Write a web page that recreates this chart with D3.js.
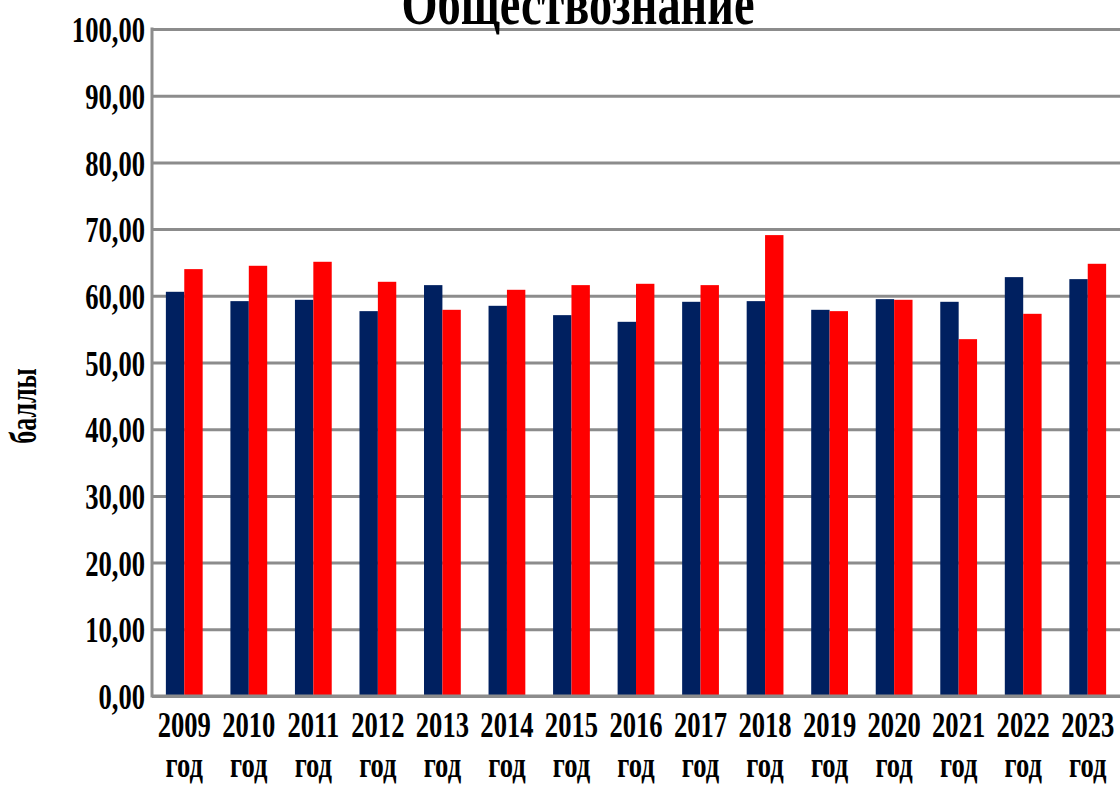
<!DOCTYPE html>
<html>
<head>
<meta charset="utf-8">
<script src="https://cdn.jsdelivr.net/npm/d3@7"></script>
<style>
  body { margin: 0; background: #fff; }
  text { font-family: "Liberation Serif", "Times New Roman", serif; font-weight: bold; fill: #000; }
</style>
</head>
<body>
<div id="chart"></div>
<script>
const years = ["2009", "2010", "2011", "2012", "2013", "2014", "2015", "2016",
    "2017", "2018", "2019", "2020", "2021", "2022", "2023"];
const seriesNames = ["navy", "red"];
const navyValues = [60.6, 59.2, 59.4, 57.7, 61.6, 58.5, 57.1, 56.1, 59.1, 59.2, 57.9, 59.5, 59.1, 62.8, 62.5];
const redValues = [64.0, 64.5, 65.1, 62.1, 57.9, 60.9, 61.6, 61.8, 61.6, 69.1, 57.7, 59.4, 53.5, 57.3, 64.8];
const seriesColors = ["#002060", "#ff0000"];
const titleText = "Обществознание";
const yLabel = "баллы";
const yearSuffix = "год";

const width = 1120;
const height = 785;
const margin = { top: 29, right: 0, bottom: 89, left: 152 };
const sx = 0.76; // condensed look of the font

const svg = d3.select("#chart")
    .append("svg")
    .attr("width", width)
    .attr("height", height);

const x = d3.scaleBand()
    .domain(years)
    .range([margin.left, width - margin.right])
    .paddingInner(0.43)
    .paddingOuter(0.215);

const x1 = d3.scaleBand()
    .domain(seriesNames)
    .range([0, x.bandwidth()]);

const y = d3.scaleLinear()
    .domain([0, 100])
    .range([height - margin.bottom, margin.top]);

const fmt = (d) => d3.format(".2f")(d).replace(".", ",");

// gridlines + y axis
const yAxis = svg.append("g")
    .attr("transform", `translate(${margin.left},0)`)
    .call(d3.axisLeft(y).ticks(10).tickSize(-(width - margin.left - margin.right)).tickFormat(fmt));
yAxis.select(".domain").remove();
yAxis.selectAll(".tick line")
    .attr("stroke", "#8c8c8c")
    .attr("stroke-width", 3);
yAxis.selectAll(".tick text")
    .attr("x", null)
    .attr("dy", "0.36em")
    .attr("transform", `translate(-7,0) scale(${sx},1)`)
    .style("font-size", "35px")
    .style("font-family", "'Liberation Serif', serif")
    .style("font-weight", "bold")
    .attr("fill", "#000");

// bars
const data = years.map((yr, i) => ({ year: yr, values: [navyValues[i], redValues[i]] }));
const groups = svg.selectAll(".grp")
    .data(data)
    .enter()
    .append("g")
    .attr("class", "grp")
    .attr("transform", (d) => `translate(${x(d.year)},0)`);

groups.selectAll("rect")
    .data((d) => d.values.map((v, j) => ({ key: seriesNames[j], value: v, color: seriesColors[j] })))
    .enter()
    .append("rect")
    .attr("x", (d) => x1(d.key))
    .attr("y", (d) => y(d.value))
    .attr("width", x1.bandwidth())
    .attr("height", (d) => y(0) - y(d.value))
    .attr("fill", (d) => d.color);

// axis lines
svg.append("line")
    .attr("x1", margin.left).attr("x2", margin.left)
    .attr("y1", y(100) - 1.5).attr("y2", y(0) + 1.5)
    .attr("stroke", "#8c8c8c").attr("stroke-width", 3);
svg.append("line")
    .attr("x1", margin.left).attr("x2", width)
    .attr("y1", y(0)).attr("y2", y(0))
    .attr("stroke", "#8c8c8c").attr("stroke-width", 3);

// x labels
const xl = svg.selectAll(".xlab")
    .data(years)
    .enter()
    .append("g")
    .attr("class", "xlab")
    .attr("transform", (d) => `translate(${x(d) + x.bandwidth() / 2},0)`);
xl.append("text")
    .attr("transform", `translate(0,737) scale(${sx},1)`)
    .attr("text-anchor", "middle")
    .style("font-size", "35px")
    .text((d) => d);
xl.append("text")
    .attr("transform", `translate(0,777) scale(${sx},1)`)
    .attr("text-anchor", "middle")
    .style("font-size", "35px")
    .text(yearSuffix);

// y label
svg.append("text")
    .attr("transform", `translate(36,406) rotate(-90) scale(0.7,1)`)
    .attr("text-anchor", "middle")
    .style("font-size", "37px")
    .text(yLabel);

// title
svg.append("text")
    .attr("transform", `translate(578,24) scale(${sx},1)`)
    .attr("text-anchor", "middle")
    .style("font-size", "61px")
    .text(titleText);
</script>
</body>
</html>
